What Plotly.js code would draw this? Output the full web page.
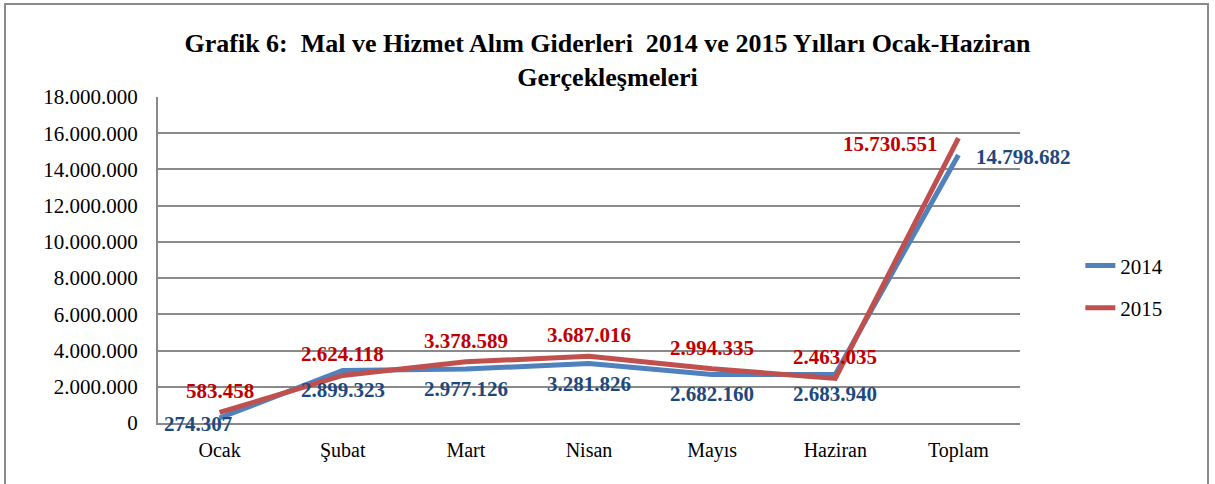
<!DOCTYPE html>
<html>
<head>
<meta charset="utf-8">
<script src="https://cdn.plot.ly/plotly-3.0.1.min.js"></script>
<style>
html,body{margin:0;padding:0;background:#fff;}
#wrap{position:relative;width:1215px;height:484px;overflow:hidden;}
#chart{width:1215px;height:484px;}
#frame{position:absolute;left:4px;top:3px;width:1201px;height:500px;border:2px solid #8a8a8a;pointer-events:none;}
</style>
</head>
<body>
<div id="wrap"><div id="chart"></div><div id="frame"></div></div>
<script>
const categories = ["Ocak", "Şubat", "Mart", "Nisan", "Mayıs", "Haziran", "Toplam"];
const values2014 = [274307, 2899323, 2977126, 3281826, 2682160, 2683940, 14798682];
const values2015 = [583458, 2624118, 3378589, 3687016, 2994335, 2463035, 15730551];
const yTickValues = [0, 2000000, 4000000, 6000000, 8000000, 10000000, 12000000, 14000000, 16000000, 18000000];

function fmt(v){ return String(v).replace(/\B(?=(\d{3})+(?!\d))/g, "."); }

const serif = "Liberation Serif";
const labelSize = 21;
const col2014Label = "#1F497D", col2015Label = "#C00000";

const t2014 = {
  x: categories, y: values2014, name: "2014", type: "scatter", mode: "lines",
  line: {color: "#4F81BD", width: 5}, legendgroup: "a", hoverinfo: "skip"
};
const t2015 = {
  x: categories, y: values2015, name: "2015", type: "scatter", mode: "lines",
  line: {color: "#C0504D", width: 5}, legendgroup: "b", hoverinfo: "skip"
};

const annotations = [];
const last = categories.length - 1;
categories.forEach((c, i) => {
  const a = {x: c, y: values2014[i], text: "<b>" + fmt(values2014[i]) + "</b>", showarrow: false,
    font: {family: serif, size: labelSize, color: col2014Label}};
  if (i === last) { a.xanchor = "left"; a.xshift = 16; a.yshift = -2; }
  else if (i === 0) { a.xshift = -22; a.yshift = -6; }
  else { a.yshift = -20; }
  annotations.push(a);
  const b = {x: c, y: values2015[i], text: "<b>" + fmt(values2015[i]) + "</b>", showarrow: false,
    font: {family: serif, size: labelSize, color: col2015Label}};
  if (i === last) { b.xanchor = "right"; b.xshift = -18; b.yshift = -6; }
  else { b.yshift = 21; }
  annotations.push(b);
});

const layout = {
  width: 1215, height: 484,
  margin: {l: 158, r: 195, t: 97, b: 61},
  paper_bgcolor: "#fff", plot_bgcolor: "#fff",
  font: {family: serif, color: "#000", size: 19},
  title: {
    text: "<b>Grafik 6:  Mal ve Hizmet Alım Giderleri  2014 ve 2015 Yılları Ocak-Haziran<br>Gerçekleşmeleri</b>",
    font: {family: serif, size: 26, color: "#000"},
    x: 0.5, xref: "container", xanchor: "center",
    y: 1 - 52/484, yref: "container", yanchor: "middle"
  },
  xaxis: {
    type: "category", range: [-0.5, 6.5], showgrid: false,
    showline: true, linecolor: "#8a8a8a", linewidth: 2,
    ticks: "", ticklabelstandoff: 8,
    tickfont: {family: serif, size: 20, color: "#000"}, fixedrange: true
  },
  yaxis: {
    range: [0, 18000000], tickvals: yTickValues, ticktext: yTickValues.map(fmt),
    showgrid: true, gridcolor: "#8a8a8a", gridwidth: 2,
    showline: true, linecolor: "#8a8a8a", linewidth: 2,
    zeroline: false, ticks: "", ticklabelstandoff: 14,
    tickfont: {family: serif, size: 21, color: "#000"}, fixedrange: true
  },
  annotations: annotations,
  legend: {
    x: 1.07, xanchor: "left", y: 0.545, yanchor: "top",
    font: {family: serif, size: 21, color: "#000"},
    bgcolor: "rgba(0,0,0,0)", tracegroupgap: 12
  },
  showlegend: true
};

Plotly.newPlot("chart", [t2014, t2015], layout, {displayModeBar: false, staticPlot: true});
</script>
</body>
</html>
